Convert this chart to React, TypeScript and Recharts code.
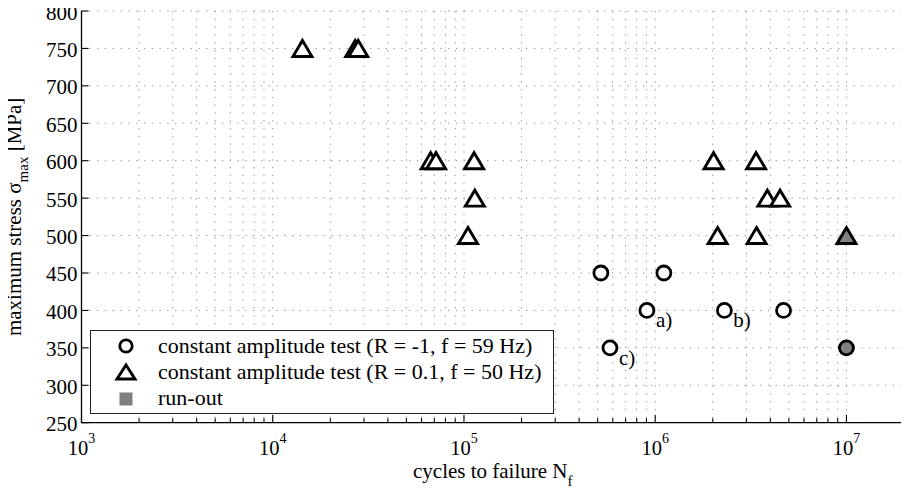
import React from 'react';
import { ScatterChart, Scatter, XAxis, YAxis, CartesianGrid, Legend } from 'recharts';

const FONT = '"Liberation Serif", "Times New Roman", serif';

// R = -1, f = 59 Hz (hollow circles)
const circleCycles = [5.2e5, 1.11e6, 9.05e5, 2.3e6, 4.69e6, 5.8e5];
const circleStress = [450, 450, 400, 400, 400, 350];
const circleNotes = ['', '', 'a)', 'b)', '', 'c)'];

// R = 0.1, f = 50 Hz (hollow triangles)
const triangleCycles = [1.43e4, 2.7e4, 2.8e4, 6.7e4, 7.15e4, 1.13e5, 1.14e5, 1.05e5, 2.02e6, 3.37e6, 3.86e6, 4.5e6, 2.12e6, 3.39e6];
const triangleStress = [750, 750, 750, 600, 600, 600, 550, 500, 600, 600, 550, 550, 500, 500];

// run-outs (filled)
const runoutCycles = [1e7, 1e7];
const runoutStress = [350, 500];
const runoutMarkers = ['circle', 'triangle'];

const decades = [1e3, 1e4, 1e5, 1e6, 1e7];
const multipliers = [1, 2, 3, 4, 5, 6, 7, 8, 9];
const xDomain = [1e3, 2e7];
const yTicks = [250, 300, 350, 400, 450, 500, 550, 600, 650, 700, 750, 800];
const yDomain = [250, 800];
const legendLabels = [
  'constant amplitude test (R = -1, f = 59 Hz)',
  'constant amplitude test (R = 0.1, f = 50 Hz)',
  'run-out',
];
const xLabel = 'cycles to failure N';
const xLabelSub = 'f';
const yLabelMain = 'maximum stress σ';
const yLabelSub = 'max';
const yLabelUnit = ' [MPa]';

const xTicks = decades
  .flatMap((d) => multipliers.map((m) => m * d))
  .filter((v) => v < xDomain[1]);

const circleData = circleCycles.map((n, i) => ({ n, s: circleStress[i], note: circleNotes[i] }));
const triangleData = triangleCycles.map((n, i) => ({ n, s: triangleStress[i] }));
const runoutData = runoutCycles.map((n, i) => ({ n, s: runoutStress[i], marker: runoutMarkers[i] }));

const GRAY = '#808080';

const circleEl = (cx: number, cy: number, fill: string, r = 7) => (
  <circle cx={cx} cy={cy} r={r} fill={fill} stroke="#000" strokeWidth={2.8} />
);
const triangleEl = (cx: number, cy: number, fill: string, w = 19, h = 16) => (
  <polygon
    points={`${cx},${cy - h / 2} ${cx + w / 2},${cy + h / 2} ${cx - w / 2},${cy + h / 2}`}
    fill={fill}
    stroke="#000"
    strokeWidth={2.9}
    strokeLinejoin="miter"
  />
);

const CircleShape = (props: any) => {
  const { cx, cy } = props;
  const note = props.payload?.note ?? props.note;
  return (
    <g>
      {circleEl(cx, cy, '#fff')}
      {note ? (
        <text x={cx + 9} y={cy + 17} fontFamily={FONT} fontSize={21} fill="#000">
          {note}
        </text>
      ) : null}
    </g>
  );
};

const TriangleShape = (props: any) => {
  const { cx, cy } = props;
  return <g>{triangleEl(cx, cy, '#fff')}</g>;
};

const RunoutShape = (props: any) => {
  const { cx, cy } = props;
  const marker = props.payload?.marker ?? props.marker;
  return <g>{marker === 'triangle' ? triangleEl(cx, cy, GRAY) : circleEl(cx, cy, GRAY)}</g>;
};

const isMajor = (v: number) => decades.includes(v);

const BottomTick = (props: any) => {
  const { x, y, payload } = props;
  const v = payload.value;
  const major = isMajor(v);
  const exp = Math.round(Math.log10(v));
  return (
    <g>
      <line x1={x} x2={x} y1={y} y2={y - (major ? 8 : 4.5)} stroke="#000" strokeWidth={1.1} />
      {major ? (
        <text x={x} y={y + 32} textAnchor="middle" fontFamily={FONT} fontSize={20.5} fill="#000">
          10
          <tspan dy={-12} fontSize={14}>
            {exp}
          </tspan>
        </text>
      ) : null}
    </g>
  );
};

const TopTick = (props: any) => {
  const { x, y, payload } = props;
  const major = isMajor(payload.value);
  return <line x1={x} x2={x} y1={y} y2={y + (major ? 8 : 4.5)} stroke="#000" strokeWidth={1.1} />;
};

const LeftTick = (props: any) => {
  const { x, y, payload } = props;
  return (
    <g>
      <line x1={x} x2={x + 7} y1={y} y2={y} stroke="#000" strokeWidth={1.1} />
      <text x={x - 4} y={y + 8.5} textAnchor="end" fontFamily={FONT} fontSize={21} fill="#000">
        {payload.value}
      </text>
    </g>
  );
};

const RightTick = (props: any) => {
  const { x, y } = props;
  return <line x1={x} x2={x - 7} y1={y} y2={y} stroke="#000" strokeWidth={1.1} />;
};

const XLabel = (props: any) => {
  const vb = props.viewBox || {};
  const cx = (vb.x ?? 0) + (vb.width ?? 0) / 2;
  return (
    <text x={cx} y={478} textAnchor="middle" fontFamily={FONT} fontSize={21} fill="#000">
      {xLabel}
      <tspan dy={8} fontSize={15}>
        {xLabelSub}
      </tspan>
    </text>
  );
};

const YLabel = (props: any) => {
  const vb = props.viewBox || {};
  const cy = (vb.y ?? 0) + (vb.height ?? 0) / 2;
  return (
    <text
      transform={`translate(21, ${cy}) rotate(-90)`}
      textAnchor="middle"
      fontFamily={FONT}
      fontSize={21}
      fill="#000"
    >
      {yLabelMain}
      <tspan dy={7} fontSize={15}>
        {yLabelSub}
      </tspan>
      <tspan dy={-7}>{yLabelUnit}</tspan>
    </text>
  );
};

const LegendContent = (props: any) => {
  const payload = props.payload && props.payload.length === 3 ? props.payload : null;
  const names = legendLabels.map((l, i) => (payload ? payload[i].value ?? l : l));
  const markerX = 36;
  const textX = 68;
  const rows = [23, 49, 75];
  return (
    <svg width={464} height={84} style={{ display: 'block' }}>
      <rect x={0.5} y={0.5} width={463} height={83} fill="#fff" stroke="#222" strokeWidth={1} />
      {circleEl(markerX, 16, '#fff', 6.2)}
      {triangleEl(markerX, 42, '#fff', 18, 14)}
      <rect x={markerX - 6.5} y={69 - 6.5} width={13} height={13} fill={GRAY} />
      {names.map((n: string, i: number) => (
        <text key={i} x={textX} y={rows[i]} fontFamily={FONT} fontSize={22} fill="#000">
          {n}
        </text>
      ))}
    </svg>
  );
};

export default function App() {
  return (
    <div style={{ marginLeft: -8, marginTop: -8, width: 909, height: 494, background: '#fff' }}>
      <ScatterChart width={909} height={494} margin={{ top: 11, right: 5, left: 0, bottom: 0 }}>
        <CartesianGrid stroke="#8f8f8f" strokeDasharray="1.3 6.5" strokeWidth={1} />
        <XAxis
          xAxisId={0}
          dataKey="n"
          type="number"
          scale="log"
          domain={xDomain}
          allowDataOverflow
          ticks={xTicks}
          interval={0}
          tickSize={0}
          tickMargin={0}
          tickLine={false}
          tick={<BottomTick />}
          height={71.3}
          axisLine={{ stroke: '#000', strokeWidth: 1.3 }}
          label={<XLabel />}
        />
        <XAxis
          xAxisId="top"
          orientation="top"
          dataKey="n"
          type="number"
          scale="log"
          domain={xDomain}
          allowDataOverflow
          ticks={xTicks}
          interval={0}
          tickSize={0}
          tickMargin={0}
          tickLine={false}
          tick={<TopTick />}
          height={0}
          axisLine={{ stroke: '#000', strokeWidth: 1.3 }}
        />
        <YAxis
          yAxisId={0}
          dataKey="s"
          type="number"
          domain={yDomain}
          allowDataOverflow
          ticks={yTicks}
          interval={0}
          tickSize={0}
          tickMargin={0}
          tickLine={false}
          tick={<LeftTick />}
          width={81.5}
          axisLine={{ stroke: '#000', strokeWidth: 1.3 }}
          label={<YLabel />}
        />
        <YAxis
          yAxisId="right"
          orientation="right"
          dataKey="s"
          type="number"
          domain={yDomain}
          allowDataOverflow
          ticks={yTicks}
          interval={0}
          tickSize={0}
          tickMargin={0}
          tickLine={false}
          tick={<RightTick />}
          width={0}
          axisLine={{ stroke: '#000', strokeWidth: 1.3 }}
        />
        <Scatter name={legendLabels[0]} data={circleData} shape={CircleShape} isAnimationActive={false} />
        <Scatter name={legendLabels[1]} data={triangleData} shape={TriangleShape} isAnimationActive={false} />
        <Scatter name={legendLabels[2]} data={runoutData} shape={RunoutShape} isAnimationActive={false} />
        <Legend
          layout="vertical"
          align="center"
          verticalAlign="middle"
          content={<LegendContent />}
          wrapperStyle={{ left: 90, top: 330, width: 464, height: 84 }}
        />
      </ScatterChart>
    </div>
  );
}
